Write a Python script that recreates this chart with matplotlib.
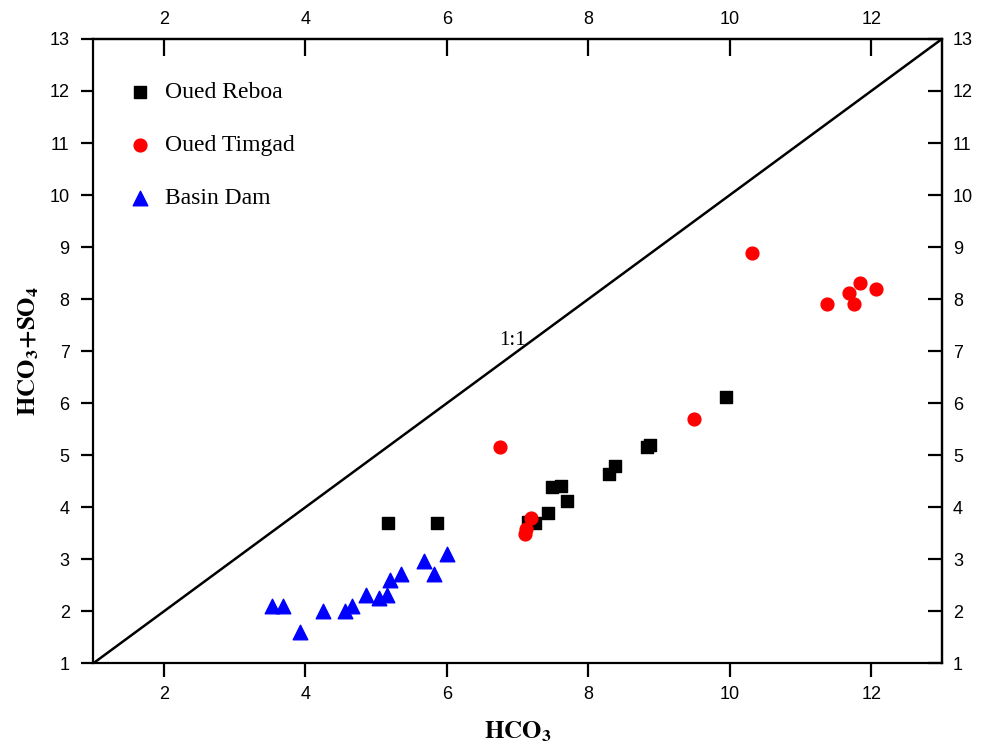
import matplotlib
matplotlib.use("Agg")
import matplotlib.pyplot as plt

reboa_x = [5.17, 5.86, 7.14, 7.25, 7.43, 7.49, 7.61, 7.70, 8.29, 8.37, 8.83, 8.87, 9.94]
reboa_y = [3.69, 3.69, 3.72, 3.69, 3.89, 4.39, 4.41, 4.11, 4.63, 4.80, 5.15, 5.19, 6.12]

timgad_x = [6.75, 7.11, 7.12, 7.19, 9.50, 10.32, 11.38, 11.69, 11.75, 11.84, 12.07]
timgad_y = [5.15, 3.48, 3.58, 3.80, 5.69, 8.89, 7.90, 8.12, 7.91, 8.31, 8.19]

dam_x = [3.53, 3.68, 3.93, 4.25, 4.56, 4.66, 4.85, 5.04, 5.16, 5.20, 5.35, 5.68, 5.82, 6.00]
dam_y = [2.10, 2.10, 1.61, 2.00, 2.00, 2.10, 2.31, 2.25, 2.31, 2.60, 2.71, 2.97, 2.71, 3.11]

line_xy = [1, 13]
xticks = [2, 4, 6, 8, 10, 12]
yticks = list(range(1, 14))

plt.rcParams['mathtext.fontset'] = 'stix'
serif = ['Liberation Serif', 'DejaVu Serif']
sans = ['Liberation Sans', 'DejaVu Sans']

fig = plt.figure(figsize=(9.88, 7.49), dpi=100)
ax = fig.add_axes([0.0944, 0.1144, 0.8590, 0.8336])

ax.plot(line_xy, line_xy, color='black', lw=1.8, zorder=1)
ax.scatter(reboa_x, reboa_y, marker='s', s=70, color='black', label='Oued Reboa', zorder=3)
ax.scatter(timgad_x, timgad_y, marker='o', s=85, color='red', label='Oued Timgad', zorder=3)
ax.scatter(dam_x, dam_y, marker='^', s=110, color='blue', label='Basin Dam', zorder=3)

ax.text(6.93, 7.2, '1:1', fontsize=15, family=serif, ha='center', va='center')

ax.set_xlim(1, 13)
ax.set_ylim(1, 13)
ax.set_xticks(xticks)
ax.set_yticks(yticks)
for s in ax.spines.values():
    s.set_linewidth(1.6)

ax.tick_params(axis='x', which='major', labelsize=13, width=1.6, length=10,
               direction='out', pad=6)
ax.tick_params(axis='y', which='major', labelsize=13, width=1.6, length=9,
               direction='out', pad=8)
for lab in ax.get_xticklabels() + ax.get_yticklabels():
    lab.set_family(sans)

secx = ax.secondary_xaxis('top')
secx.set_xticks(xticks)
secx.tick_params(direction='in', labelsize=13, width=1.6, length=12, pad=8)
secy = ax.secondary_yaxis('right')
secy.set_yticks(yticks)
secy.tick_params(direction='in', labelsize=13, width=1.6, length=10, pad=8)
for lab in secx.get_xticklabels() + secy.get_yticklabels():
    lab.set_family(sans)
secx.spines['top'].set_linewidth(1.6)
secy.spines['right'].set_linewidth(1.6)

ax.set_xlabel(r'$\mathbf{HCO_3}$', fontsize=18, labelpad=12)
ax.set_ylabel(r'$\mathbf{HCO_3{+}SO_4}$', fontsize=18, labelpad=6)

leg = ax.legend(loc='upper left', bbox_to_anchor=(0.016, 0.966), frameon=False,
                prop={'family': serif, 'size': 17}, labelspacing=1.33,
                handletextpad=0.55, handlelength=1.0, scatterpoints=1)

fig.savefig('out.png', dpi=100)
